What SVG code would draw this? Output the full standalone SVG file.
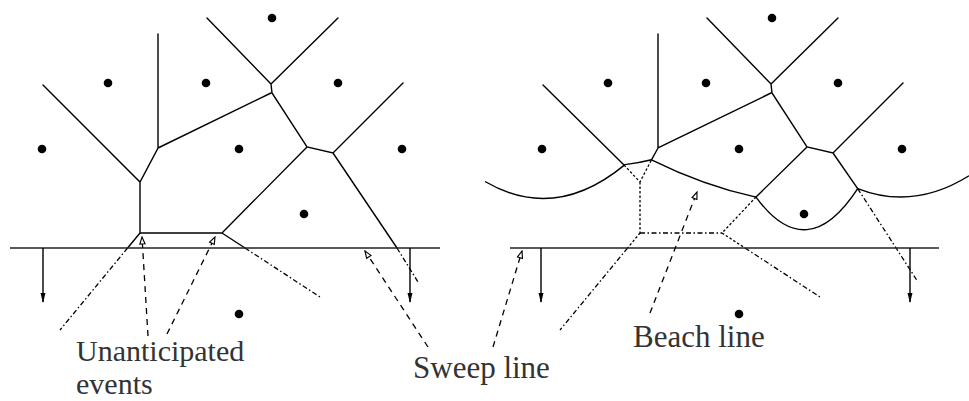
<svg xmlns="http://www.w3.org/2000/svg" width="969" height="401" viewBox="0 0 969 401">
<style>
  .e { fill: none; stroke: #000; stroke-width: 1.4; stroke-linecap: round; }
  .dd { fill: none; stroke: #000; stroke-width: 1.3; stroke-dasharray: 5 2.5 1.5 2.5; }
  .dt { fill: none; stroke: #000; stroke-width: 1.3; stroke-dasharray: 2.5 2; }
  .ptr { fill: none; stroke: #000; stroke-width: 1.3; stroke-dasharray: 6 5; marker-end: url(#open); }
  .sweep { fill: none; stroke: #222; stroke-width: 1.6; }
  .down { fill: none; stroke: #000; stroke-width: 1.4; marker-end: url(#solid); }
  .beach { fill: none; stroke: #000; stroke-width: 1.4; }
  .site { fill: #000; }
  .lbl { font-family: "Liberation Serif", "Times New Roman", serif; font-size: 31px; fill: #333; }
  .lbl2 { font-family: "Liberation Serif", "Times New Roman", serif; font-size: 30px; fill: #333; }
</style>
<defs>
  <marker id="solid" viewBox="0 0 10 6" refX="9" refY="3" markerWidth="10" markerHeight="6" markerUnits="userSpaceOnUse" orient="auto">
    <path d="M0,0.5 L10,3 L0,5.5 z" fill="#000"/>
  </marker>
  <marker id="open" viewBox="0 0 10 8" refX="9" refY="4" markerWidth="9" markerHeight="7" markerUnits="userSpaceOnUse" orient="auto">
    <path d="M1,1 L9,4 L1,7 z" fill="#fff" stroke="#000" stroke-width="1.3"/>
  </marker>
</defs>
<rect width="969" height="401" fill="#fff"/>

<g id="left-diagram">
  <g id="left-sites">
    <circle class="site" cx="272" cy="18" r="4.3"/>
    <circle class="site" cx="108" cy="83" r="4.3"/>
    <circle class="site" cx="206" cy="83" r="4.3"/>
    <circle class="site" cx="338" cy="83" r="4.3"/>
    <circle class="site" cx="42" cy="149" r="4.3"/>
    <circle class="site" cx="239" cy="149" r="4.3"/>
    <circle class="site" cx="402" cy="149" r="4.3"/>
    <circle class="site" cx="304" cy="214" r="4.3"/>
    <circle class="site" cx="239" cy="314" r="4.3"/>
  </g>
  <g id="left-edges">
    <path class="e" d="M43,85 L140,182 L158,148 L158,34 M158,148 L271,93 M207,18 L271,84 L338,18 M271,84 L272,93 L307,147 L333,153 L403,83 M333,153 L397,248 M307,147 L222,233 M140,182 L140,233 L222,233 M140,233 L127.6,248 M222,233 L245,248"/>
    <path class="dd" d="M397,248 L418,282 M127.6,248 L60,330 M245,248 L320,297"/>
  </g>
  <line id="left-sweep" class="sweep" x1="10" y1="248" x2="440" y2="248"/>
  <g id="left-arrows">
    <line class="down" x1="43" y1="248" x2="43" y2="302"/>
    <line class="down" x1="410" y1="248" x2="410" y2="302"/>
  </g>
</g>

<g id="right-diagram">
  <g id="right-sites">
    <circle class="site" cx="772" cy="18" r="4.3"/>
    <circle class="site" cx="608" cy="83" r="4.3"/>
    <circle class="site" cx="706" cy="83" r="4.3"/>
    <circle class="site" cx="838" cy="83" r="4.3"/>
    <circle class="site" cx="542" cy="149" r="4.3"/>
    <circle class="site" cx="739" cy="149" r="4.3"/>
    <circle class="site" cx="902" cy="149" r="4.3"/>
    <circle class="site" cx="804" cy="214" r="4.3"/>
    <circle class="site" cx="739" cy="314" r="4.3"/>
  </g>
  <g id="right-edges">
    <path class="e" d="M543,85 L624,165 M658,34 L658,148 L771,93 M707,18 L771,84 L838,18 M771,84 L772,93 L807,147 L833,153 L903,83 M833,153 L857.7,188.6 M807,147 L756,197 M658,148 L651.5,159.8"/>
    <path class="dt" d="M624,165 L640,182 L651.5,159.8 M640,182 L640,233 M756,197 L722,233 M640,233 L627.6,248 M722,233 L745,248"/>
    <path class="dd" d="M640,233 L722,233 M857.7,188.6 L918,282 M627.6,248 L560,330 M745,248 L820,297"/>
  </g>
  <path id="beach-line" class="beach" d="M485,181.5 Q555,222.5 625,164.6 Q638.3,163.2 651.5,159.8 Q703.7,185.7 756,197.1 Q806.9,266.5 857.7,188.6 Q913.4,210.5 969,175.8"/>
  <line id="right-sweep" class="sweep" x1="510" y1="248" x2="939" y2="248"/>
  <g id="right-arrows">
    <line class="down" x1="541" y1="248" x2="541" y2="302"/>
    <line class="down" x1="910" y1="248" x2="910" y2="302"/>
  </g>
</g>

<g id="connectors">
  <line class="ptr" x1="148" y1="336" x2="142" y2="237"/>
  <line class="ptr" x1="167" y1="334" x2="215" y2="237"/>
  <line class="ptr" x1="428" y1="347" x2="365" y2="251"/>
  <line class="ptr" x1="493" y1="347" x2="522" y2="251"/>
  <line class="ptr" x1="650" y1="313" x2="697" y2="192"/>
</g>

<g id="labels">
  <text class="lbl2" x="76" y="361">Unanticipated</text>
  <text class="lbl2" x="76" y="394">events</text>
  <text class="lbl" x="413" y="378">Sweep line</text>
  <text class="lbl" x="633" y="347">Beach line</text>
</g>
</svg>
